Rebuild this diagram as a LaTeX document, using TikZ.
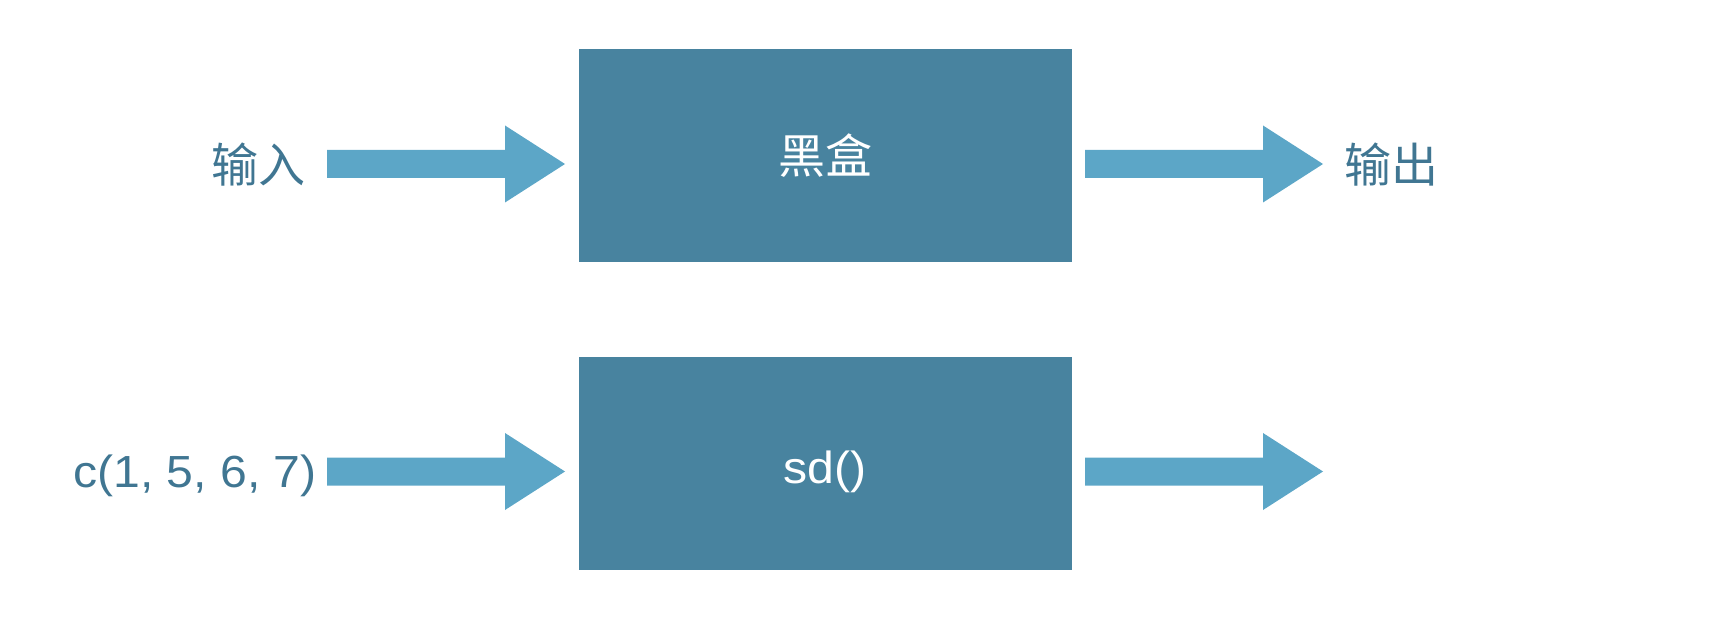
\documentclass[tikz,border=0pt]{standalone}
\usepackage{fontspec}
\newfontfamily\cjk{Noto Sans CJK SC}
\newfontfamily\arialf[FakeStretch=1.07]{Liberation Sans}
\definecolor{boxfill}{RGB}{72,131,159}
\definecolor{arrowfill}{RGB}{92,166,199}
\definecolor{labeltext}{RGB}{64,118,146}
\tikzset{
  blackbox/.style={fill=boxfill, draw=none, minimum width=493pt, minimum height=213pt, inner sep=0pt, text=white},
  lbl/.style={text=labeltext, inner sep=0pt},
  cjktext/.style={font=\cjk\fontsize{47}{47}\selectfont},
  latintext/.style={font=\arialf\fontsize{45}{45}\selectfont},
  blockarrow/.style={fill=arrowfill, draw=none}
}
\newcommand\blockarr[1]{%
  \fill[blockarrow] (#1) ++(0,14) -- ++(178,0) -- ++(0,24.5) -- ++(60,-38.5) -- ++(-60,-38.5) -- ++(0,24.5) -- ++(-178,0) -- cycle;}
\begin{document}
\begin{tikzpicture}[x=1pt,y=1pt]
\useasboundingbox (0,0) rectangle (1728,624);
% boxes
\node[blackbox, cjktext] (box1) at (825.5,468.5) {黑盒};
\node[blackbox, latintext] (box2) at (825.5,160.5) {};
\node[text=white, latintext, inner sep=0pt] (sd) at (825,152.5) {sd()};
% labels
\node[lbl, cjktext] (in) at (258,459) {输入};
\node[lbl, cjktext] (out) at (1391,459.5) {输出};
\node[lbl, latintext] (vec) at (195,148) {c(1, 5, 6, 7)};
% arrow tails
\coordinate (t1) at (327,460);
\coordinate (t2) at (1085,460);
\coordinate (t3) at (327,152.5);
\coordinate (t4) at (1085,152.5);
\blockarr{t1}
\blockarr{t2}
\blockarr{t3}
\blockarr{t4}
\end{tikzpicture}
\end{document}
